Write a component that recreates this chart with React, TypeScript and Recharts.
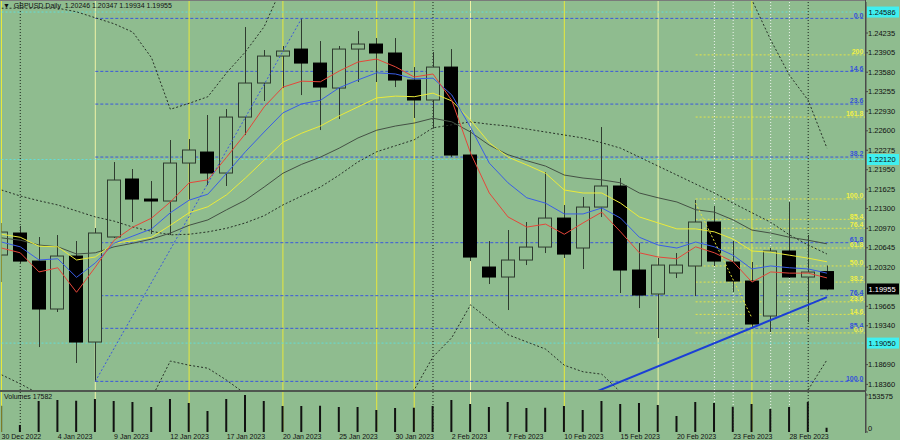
import React from "react";
import { ComposedChart, Bar, Line, XAxis, YAxis, ReferenceLine } from "recharts";

const DATES = [
  "30 Dec 2022", "2 Jan 2023", "3 Jan 2023", "4 Jan 2023", "5 Jan 2023", "6 Jan 2023",
  "9 Jan 2023", "10 Jan 2023", "11 Jan 2023", "12 Jan 2023", "13 Jan 2023",
  "16 Jan 2023", "17 Jan 2023", "18 Jan 2023", "19 Jan 2023", "20 Jan 2023",
  "23 Jan 2023", "24 Jan 2023", "25 Jan 2023", "26 Jan 2023", "27 Jan 2023",
  "30 Jan 2023", "31 Jan 2023", "1 Feb 2023", "2 Feb 2023", "3 Feb 2023",
  "6 Feb 2023", "7 Feb 2023", "8 Feb 2023", "9 Feb 2023", "10 Feb 2023",
  "13 Feb 2023", "14 Feb 2023", "15 Feb 2023", "16 Feb 2023", "17 Feb 2023",
  "20 Feb 2023", "21 Feb 2023", "22 Feb 2023", "23 Feb 2023", "24 Feb 2023",
  "27 Feb 2023", "28 Feb 2023", "1 Mar 2023", "2 Mar 2023",
];

const OPEN = [
  1.20523, 1.20891, 1.20422, 1.1962, 1.20506, 1.19068, 1.20824, 1.21794, 1.21459, 1.21426,
  1.22061, 1.22245, 1.21894, 1.2283, 1.23399, 1.2385, 1.23967, 1.23733, 1.23315, 1.23967,
  1.24051, 1.23901, 1.23449, 1.23115, 1.23666, 1.22195, 1.20322, 1.20155, 1.20439, 1.20656,
  1.21141, 1.2064, 1.21325, 1.21677, 1.20272, 1.19871, 1.20222, 1.20339, 1.21075, 1.20406,
  1.20088, 1.19503, 1.2059, 1.20155, 1.20246,
];
const HIGH = [
  1.21058, 1.21008, 1.20824, 1.20857, 1.20757, 1.20974, 1.22078, 1.21961, 1.2176, 1.22446,
  1.22462, 1.22864, 1.22964, 1.24335, 1.23951, 1.24018, 1.2448, 1.24101, 1.24018, 1.24268,
  1.24151, 1.24151, 1.23666, 1.23917, 1.23967, 1.22613, 1.20757, 1.20941, 1.21075, 1.21911,
  1.21359, 1.21493, 1.22663, 1.2181, 1.20723, 1.20473, 1.20556, 1.21442, 1.21342, 1.20757,
  1.20406, 1.2064, 1.21409, 1.20857, 1.20347,
];
const LOW = [
  1.20071, 1.20389, 1.18984, 1.1957, 1.18717, 1.1841, 1.20807, 1.21075, 1.20874, 1.20857,
  1.2145, 1.21693, 1.21677, 1.22529, 1.23098, 1.23315, 1.23198, 1.22613, 1.22797, 1.23416,
  1.23416, 1.23332, 1.22814, 1.22646, 1.22161, 1.20422, 1.20038, 1.19603, 1.20355, 1.20556,
  1.20473, 1.20289, 1.21158, 1.19887, 1.19636, 1.19135, 1.20138, 1.19837, 1.20339, 1.19904,
  1.19319, 1.19235, 1.20138, 1.194, 1.19934,
];
const CLOSE = [
  1.20907, 1.20422, 1.1962, 1.20506, 1.19068, 1.20891, 1.21777, 1.21459, 1.21426, 1.22061,
  1.22279, 1.21894, 1.2283, 1.23399, 1.2385, 1.23934, 1.23733, 1.23332, 1.23967, 1.24051,
  1.23901, 1.23449, 1.23115, 1.23666, 1.22195, 1.20489, 1.20155, 1.20439, 1.20656, 1.21141,
  1.20539, 1.21325, 1.21677, 1.20272, 1.19854, 1.20355, 1.20355, 1.21075, 1.20422, 1.20088,
  1.19369, 1.2059, 1.20155, 1.20238, 1.19955,
];
const VOLUME = [
  108940, 29120, 128760, 132880, 129310, 137450, 128620, 124870, 104230, 136980,
  120410, 87260, 137220, 153575, 129050, 107830, 108270, 108610, 104120, 103890,
  91340, 99870, 100420, 108150, 133240, 116380, 103960, 124720, 99650, 100240,
  107980, 91120, 128940, 116210, 120480, 112340, 66120, 124960, 119870, 104310,
  116020, 95470, 104180, 124830, 17582,
];

const MA_RED = [
  1.2064, 1.2056, 1.2024, 1.2031, 1.199, 1.2032, 1.2077, 1.2099, 1.2114, 1.2141,
  1.2173, 1.2178, 1.2216, 1.2255, 1.23, 1.2333, 1.2343, 1.2342, 1.236, 1.2375,
  1.238, 1.2367, 1.235, 1.2355, 1.2311, 1.2223, 1.2156, 1.2116, 1.2099, 1.2104,
  1.2087, 1.2106, 1.2124, 1.2091, 1.2056, 1.2049, 1.2046, 1.2066, 1.2056, 1.2041,
  1.2007, 1.2024, 1.2022, 1.2022, 1.2014,
];
const MA_BLUE = [
  1.2074, 1.2066, 1.2044, 1.2046, 1.2015, 1.2039, 1.2072, 1.2084, 1.2096, 1.2123,
  1.2144, 1.2154, 1.2189, 1.2225, 1.2258, 1.229, 1.2305, 1.2311, 1.2332, 1.2345,
  1.2357, 1.2355, 1.2347, 1.2348, 1.232, 1.2266, 1.2206, 1.2173, 1.2148, 1.2139,
  1.2121, 1.2121, 1.2131, 1.2114, 1.2082, 1.2069, 1.2064, 1.2074, 1.2066, 1.2052,
  1.2029, 1.2034, 1.2031, 1.2029, 1.2022,
];
const MA_YELLOW = [
  1.2087, 1.2082, 1.2067, 1.2066, 1.2044, 1.2049, 1.2072, 1.2076, 1.2082, 1.2102,
  1.2123, 1.2133, 1.2153, 1.2181, 1.2211, 1.2241, 1.2256, 1.2268, 1.2285, 1.23,
  1.2315, 1.2318, 1.2317, 1.2323, 1.231, 1.2278, 1.224, 1.2216, 1.2203, 1.2189,
  1.2161, 1.2156, 1.2156, 1.2139, 1.2116, 1.2106, 1.2096, 1.2096, 1.2091, 1.2079,
  1.2059, 1.2057, 1.2052, 1.2047, 1.2041,
];
const MA_GRAY = [
  1.2081, 1.2077, 1.2069, 1.2066, 1.2054, 1.2056, 1.2066, 1.2072, 1.2079, 1.2089,
  1.2102, 1.2111, 1.2128, 1.2144, 1.2166, 1.2189, 1.2204, 1.2216, 1.2231, 1.2248,
  1.2261, 1.2268, 1.2273, 1.2281, 1.2275, 1.2258, 1.2236, 1.222, 1.221, 1.2201,
  1.2186, 1.2181, 1.2178, 1.2173, 1.2156, 1.2148, 1.2141, 1.2128, 1.2124, 1.2111,
  1.2094, 1.2089, 1.2082, 1.2077, 1.2071,
];
const BB_UPPER = [
  1.2465, 1.2465, 1.2465, 1.2465, 1.2459, 1.2449, 1.2439, 1.2425, 1.2382, 1.2296,
  1.2306, 1.2317, 1.2357, 1.2392, 1.2434, 1.2504, 1.2529, 1.2554, 1.2579, 1.2604,
  1.2626, 1.2656, 1.2663, 1.2648, 1.2626, 1.2581, 1.2599, 1.2617, 1.2619, 1.2621,
  1.2638, 1.2639, 1.2626, 1.2644, 1.2623, 1.2601, 1.2579, 1.2557, 1.2536, 1.2511,
  1.2479, 1.2412, 1.2353, 1.2311, 1.2231,
];
const BB_MID = [
  1.2161, 1.2151, 1.2143, 1.2136, 1.2126, 1.2116, 1.2109, 1.2099, 1.2092, 1.2086,
  1.2087, 1.2091, 1.2097, 1.2106, 1.2118, 1.2136, 1.2151, 1.2166, 1.2186, 1.2208,
  1.2225, 1.2235, 1.2245, 1.2265, 1.227, 1.2275, 1.2271, 1.2268, 1.2263, 1.2258,
  1.2253, 1.2248, 1.224, 1.2231, 1.2216, 1.2201, 1.2186, 1.2171, 1.2156, 1.2139,
  1.2123, 1.2107, 1.2086, 1.2069, 1.2054,
];
const BB_LOWER = [
  1.1852, 1.1837, 1.182, 1.1806, 1.1793, 1.1783, 1.178, 1.1773, 1.1813, 1.1875,
  1.1868, 1.1863, 1.1843, 1.182, 1.1801, 1.1768, 1.1773, 1.1778, 1.1793, 1.1811,
  1.1823, 1.1813, 1.1827, 1.1882, 1.1914, 1.1969, 1.1944, 1.1919, 1.1907, 1.1895,
  1.1868, 1.1857, 1.1853, 1.1823, 1.181, 1.1801, 1.1793, 1.1785, 1.1776, 1.1768,
  1.1766, 1.1803, 1.1818, 1.1827, 1.1877,
];

const PRICE_TICKS = [
  1.24235, 1.23905, 1.2358, 1.23255, 1.2293, 1.226, 1.22275, 1.2195, 1.21625, 1.213,
  1.2097, 1.20645, 1.2032, 1.19665, 1.1934, 1.1869, 1.1836,
];

// blue retracement: 6 Jan low -> 23 Jan high
const FIB_BLUE_START = 5;
const FIB_BLUE = [
  { label: "0.0", price: 1.2448 },
  { label: "14.6", price: 1.23594 },
  { label: "23.6", price: 1.23047 },
  { label: "38.2", price: 1.22161 },
  { label: "61.8", price: 1.20729 },
  { label: "76.4", price: 1.19843 },
  { label: "85.4", price: 1.19297 },
  { label: "100.0", price: 1.1841 },
];
// yellow expansion
const FIB_YELLOW_START = 37;
const FIB_YELLOW = [
  { label: "200", price: 1.2387 },
  { label: "161.8", price: 1.2283 },
  { label: "100.0", price: 1.2146 },
  { label: "85.4", price: 1.2112 },
  { label: "76.4", price: 1.2097 },
  { label: "61.8", price: 1.2064 },
  { label: "50.0", price: 1.2034 },
  { label: "38.2", price: 1.2007 },
  { label: "23.6", price: 1.1974 },
  { label: "14.6", price: 1.1953 },
  { label: "0.0", price: 1.1922 },
];
const CYAN_LEVELS = [1.24586, 1.2212, 1.1905];

const FIB_DIAG = [{ i: 5, price: 1.1841 }, { i: 16, price: 1.2448 }];
const YELLOW_DIAG = [{ i: 37, price: 1.2139 }, { i: 40, price: 1.1947 }];
const TREND = [{ i: 31, price: 1.18148 }, { i: 44, price: 1.1982 }];

const V_YELLOW = [0, 10, 15, 20, 22, 30, 40];
const V_PALE = [5, 25, 35];
const V_WHITE = [38, 39, 41, 42];
const V_BLACK = [1, 23, 43];

// the bar axis runs 0..48; its plot is wider than the visible pane, which is clipped at the price scale
const X_DOMAIN = [0, 48];
const X_END = 46.05; // right edge of the visible pane, in bar units
const PANE_W = 866;
const WIDE_W = 902;
const Y_MIN = 1.18249;
const Y_MAX = 1.24754;

const BG = "#8fbc8f";
const WICK = "#2f3b2f";
const FONT = '"Liberation Sans", Arial, sans-serif';

const pointAt = (pts: { i: number; price: number }[], i: number) => {
  const p = pts.find((q) => q.i === i);
  return p ? p.price : null;
};

function Candle(props: any) {
  const { x, y, width, height, payload } = props;
  if (!payload || height == null) return null;
  const top = Math.min(y, y + height);
  const span = Math.abs(height);
  const range = payload.high - payload.low || 1;
  const at = (p: number) => top + ((payload.high - p) / range) * span;
  const left = Math.round(x) + 0.5;
  const cx = Math.round(x) + 7.5;
  const yo = at(payload.open);
  const yc = at(payload.close);
  const up = payload.close >= payload.open;
  return (
    <g>
      <line x1={cx} x2={cx} y1={top} y2={top + span} stroke={WICK} strokeWidth={1} />
      <rect
        x={left}
        y={Math.min(yo, yc)}
        width={Math.round(width) - 1}
        height={Math.max(1, Math.abs(yc - yo))}
        fill={up ? BG : "#000"}
        stroke={up ? WICK : "#000"}
        strokeWidth={1}
      />
    </g>
  );
}

const PriceTick = ({ x, y, payload }: any) => (
  <text x={x} y={y} dy="0.35em" fontSize={7.5} fill="#111" fontFamily={FONT}>
    {Number(payload.value).toFixed(5)}
  </text>
);

const VolTick = ({ x, y, payload }: any) => (
  <text x={x} y={payload.value === 0 ? y - 4 : y + 1.5} dy="0.35em" fontSize={7.5} fill="#111" fontFamily={FONT}>
    {payload.value}
  </text>
);

const DateTick = ({ x, y, payload }: any) => (
  <text x={x} y={y + 6.5} fontSize={7} fill="#111" fontFamily={FONT}>
    {DATES[payload.value]}
  </text>
);

const fibLabel = (text: string, color: string) => ({
  content: (p: any) => {
    const vb = p.viewBox || {};
    return (
      <text x={vb.x + vb.width - 2} y={vb.y - 0.8} textAnchor="end" fontSize={7} fontWeight={700} fill={color} fontFamily={FONT}>
        {text}
      </text>
    );
  },
});

const axisTag = (text: string, bg: string, fg: string) => ({
  content: (p: any) => {
    const vb = p.viewBox || {};
    const x = vb.x + vb.width;
    return (
      <g>
        <rect x={x + 1} y={vb.y - 5.5} width={32} height={11} fill={bg} />
        <text x={x + 2.5} y={vb.y} dy="0.35em" fontSize={7.5} fill={fg} fontFamily={FONT}>
          {text}
        </text>
      </g>
    );
  },
});

const xAxisProps = {
  dataKey: "i",
  type: "number" as const,
  domain: X_DOMAIN,
  allowDataOverflow: true,
};
const wideMargin = { top: 2, right: 0, bottom: 0, left: 1.5 };

export default function App() {
  const data = DATES.map((date, i) => ({
    i,
    date,
    open: OPEN[i],
    high: HIGH[i],
    low: LOW[i],
    close: CLOSE[i],
    volume: VOLUME[i],
    maRed: MA_RED[i],
    maBlue: MA_BLUE[i],
    maYellow: MA_YELLOW[i],
    maGray: MA_GRAY[i],
    bbUpper: BB_UPPER[i],
    bbMid: BB_MID[i],
    bbLower: BB_LOWER[i],
    fibDiag: pointAt(FIB_DIAG, i),
    yellowDiag: pointAt(YELLOW_DIAG, i),
    trend: pointAt(TREND, i),
  }));
  const last = data[data.length - 1];
  const dateTicks = DATES.map((_, i) => i).filter((i) => i % 3 === 0);
  const volMax = Math.max(...VOLUME);

  const clip = (top: number, height: number) => ({
    position: "absolute" as const,
    left: 0,
    top,
    width: PANE_W,
    height,
    overflow: "hidden" as const,
  });
  const free = (top: number) => ({ position: "absolute" as const, left: 0, top });

  return (
    <div style={{ position: "fixed", left: 0, top: 0, width: 900, height: 440, background: BG, overflow: "hidden", fontFamily: FONT }}>
      {/* period separators, behind everything */}
      <div style={clip(0, 432)}>
        <ComposedChart width={WIDE_W} height={432} data={data} margin={{ ...wideMargin, top: 0 }}>
          <XAxis {...xAxisProps} hide />
          <YAxis hide domain={[0, 1]} allowDataOverflow />
          {V_PALE.map((i) => <ReferenceLine key={"p" + i} x={i} stroke="#eef2a6" ifOverflow="visible" />)}
          {V_YELLOW.map((i) => <ReferenceLine key={"y" + i} x={i} stroke="#e8e83c" ifOverflow="visible" />)}
          {V_WHITE.map((i) => <ReferenceLine key={"w" + i} x={i} stroke="#eef4ee" strokeDasharray="1 2" ifOverflow="visible" />)}
          {V_BLACK.map((i) => <ReferenceLine key={"b" + i} x={i} stroke="#1c241c" strokeDasharray="1 2" ifOverflow="visible" />)}
        </ComposedChart>
      </div>

      {/* horizontal levels, behind the candles */}
      <div style={clip(0, 391)}>
        <ComposedChart width={WIDE_W} height={391} data={data} margin={wideMargin}>
          <XAxis {...xAxisProps} hide />
          <YAxis hide domain={[Y_MIN, Y_MAX]} allowDataOverflow />
          {CYAN_LEVELS.map((p) => (
            <ReferenceLine key={"c" + p} y={p} stroke="#64dcd6" strokeDasharray="2 2" />
          ))}
          {FIB_BLUE.map((f) => (
            <ReferenceLine
              key={"fb" + f.label}
              segment={[{ x: FIB_BLUE_START, y: f.price }, { x: X_END, y: f.price }]}
              stroke="#3b58dc"
              strokeDasharray="3 2"
              ifOverflow="visible"
              label={fibLabel(f.label, "#3552d8")}
            />
          ))}
          {FIB_YELLOW.map((f) => (
            <ReferenceLine
              key={"fy" + f.label}
              segment={[{ x: FIB_YELLOW_START, y: f.price }, { x: X_END, y: f.price }]}
              stroke="#e2e24c"
              strokeDasharray="2 2"
              ifOverflow="visible"
              label={fibLabel(f.label, "#f0f048")}
            />
          ))}
        </ComposedChart>
      </div>

      {/* price pane */}
      <div style={clip(0, 391)}>
        <ComposedChart width={WIDE_W} height={391} data={data} margin={wideMargin}>
          <XAxis {...xAxisProps} hide />
          <YAxis hide domain={[Y_MIN, Y_MAX]} allowDataOverflow />
          <Bar dataKey={(d: any) => [d.low, d.high]} barSize={14} shape={(p: any) => <Candle {...p} />} isAnimationActive={false} />
          <Line dataKey="bbUpper" type="linear" stroke="#283228" strokeDasharray="2 2" dot={false} isAnimationActive={false} />
          <Line dataKey="bbMid" type="linear" stroke="#283228" strokeDasharray="2 2" dot={false} isAnimationActive={false} />
          <Line dataKey="bbLower" type="linear" stroke="#283228" strokeDasharray="2 2" dot={false} isAnimationActive={false} />
          <Line dataKey="maGray" type="linear" stroke="#445044" dot={false} isAnimationActive={false} />
          <Line dataKey="maYellow" type="linear" stroke="#eaea3a" dot={false} isAnimationActive={false} />
          <Line dataKey="maBlue" type="linear" stroke="#3a5ee6" dot={false} isAnimationActive={false} />
          <Line dataKey="maRed" type="linear" stroke="#e5463a" dot={false} isAnimationActive={false} />
          <Line dataKey="fibDiag" type="linear" stroke="#3b58dc" strokeDasharray="2 2" connectNulls dot={false} isAnimationActive={false} />
          <Line dataKey="yellowDiag" type="linear" stroke="#e6e63a" strokeDasharray="2 2" connectNulls dot={false} isAnimationActive={false} />
          <Line dataKey="trend" type="linear" stroke="#1b3fd6" strokeWidth={2} connectNulls dot={false} isAnimationActive={false} />
        </ComposedChart>
      </div>

      {/* price scale */}
      <div style={free(0)}>
        <ComposedChart width={900} height={391} data={data} margin={{ top: 2, right: 0, bottom: 0, left: 0 }}>
          <XAxis dataKey="i" type="number" hide />
          <YAxis
            orientation="right"
            width={34}
            domain={[Y_MIN, Y_MAX]}
            allowDataOverflow
            ticks={PRICE_TICKS}
            interval={0}
            tick={<PriceTick />}
            tickSize={2}
            tickMargin={0}
            axisLine={{ stroke: "#4a4a4a" }}
            tickLine={{ stroke: "#4a4a4a" }}
          />
          {CYAN_LEVELS.map((p) => (
            <ReferenceLine key={"ct" + p} y={p} stroke="none" label={axisTag(p.toFixed(5), "#3ff0f0", "#111")} />
          ))}
          <ReferenceLine y={last.close} stroke="none" label={axisTag(last.close.toFixed(5), "#000", "#fff")} />
        </ComposedChart>
      </div>

      {/* volume pane */}
      <div style={clip(391, 49)}>
        <ComposedChart width={WIDE_W} height={49} data={data} margin={{ ...wideMargin, top: 2 }}>
          <XAxis
            {...xAxisProps}
            ticks={dateTicks}
            interval={0}
            height={8}
            tick={<DateTick />}
            tickSize={0}
            tickMargin={0}
            axisLine={false}
            tickLine={false}
          />
          <YAxis hide domain={[0, 161900]} allowDataOverflow />
          <Bar dataKey="volume" barSize={2} fill="#111" isAnimationActive={false} />
        </ComposedChart>
      </div>

      {/* volume scale */}
      <div style={free(391)}>
        <ComposedChart width={900} height={49} data={data} margin={{ top: 2, right: 0, bottom: 8, left: 0 }}>
          <XAxis dataKey="i" type="number" hide />
          <YAxis
            orientation="right"
            width={34}
            domain={[0, 161900]}
            allowDataOverflow
            ticks={[0, volMax]}
            interval={0}
            tick={<VolTick />}
            tickSize={2}
            tickMargin={0}
            axisLine={{ stroke: "#4a4a4a" }}
            tickLine={{ stroke: "#4a4a4a" }}
          />
        </ComposedChart>
      </div>

      <div style={{ position: "absolute", left: 0, top: 0, width: 866, height: 1, background: "#7a7a7a" }} />
      <div style={{ position: "absolute", left: 0, top: 390, width: 866, height: 2, background: "#4f564f" }} />
      <div style={{ position: "absolute", left: 865, top: 0, width: 1, height: 433, background: "#4a4a4a" }} />

      <div style={{ position: "absolute", left: 3, top: 1, fontSize: 7, color: "#111", whiteSpace: "pre", lineHeight: "9px" }}>
        {"\u25BC  GBPUSD,Daily  " +
          [last.open, last.high, last.low, last.close].map((v) => v.toFixed(5)).join(" ")}
      </div>
      <div style={{ position: "absolute", left: 4, top: 392, fontSize: 7, color: "#111", whiteSpace: "pre", lineHeight: "9px" }}>
        {"Volumes " + last.volume}
      </div>
    </div>
  );
}
